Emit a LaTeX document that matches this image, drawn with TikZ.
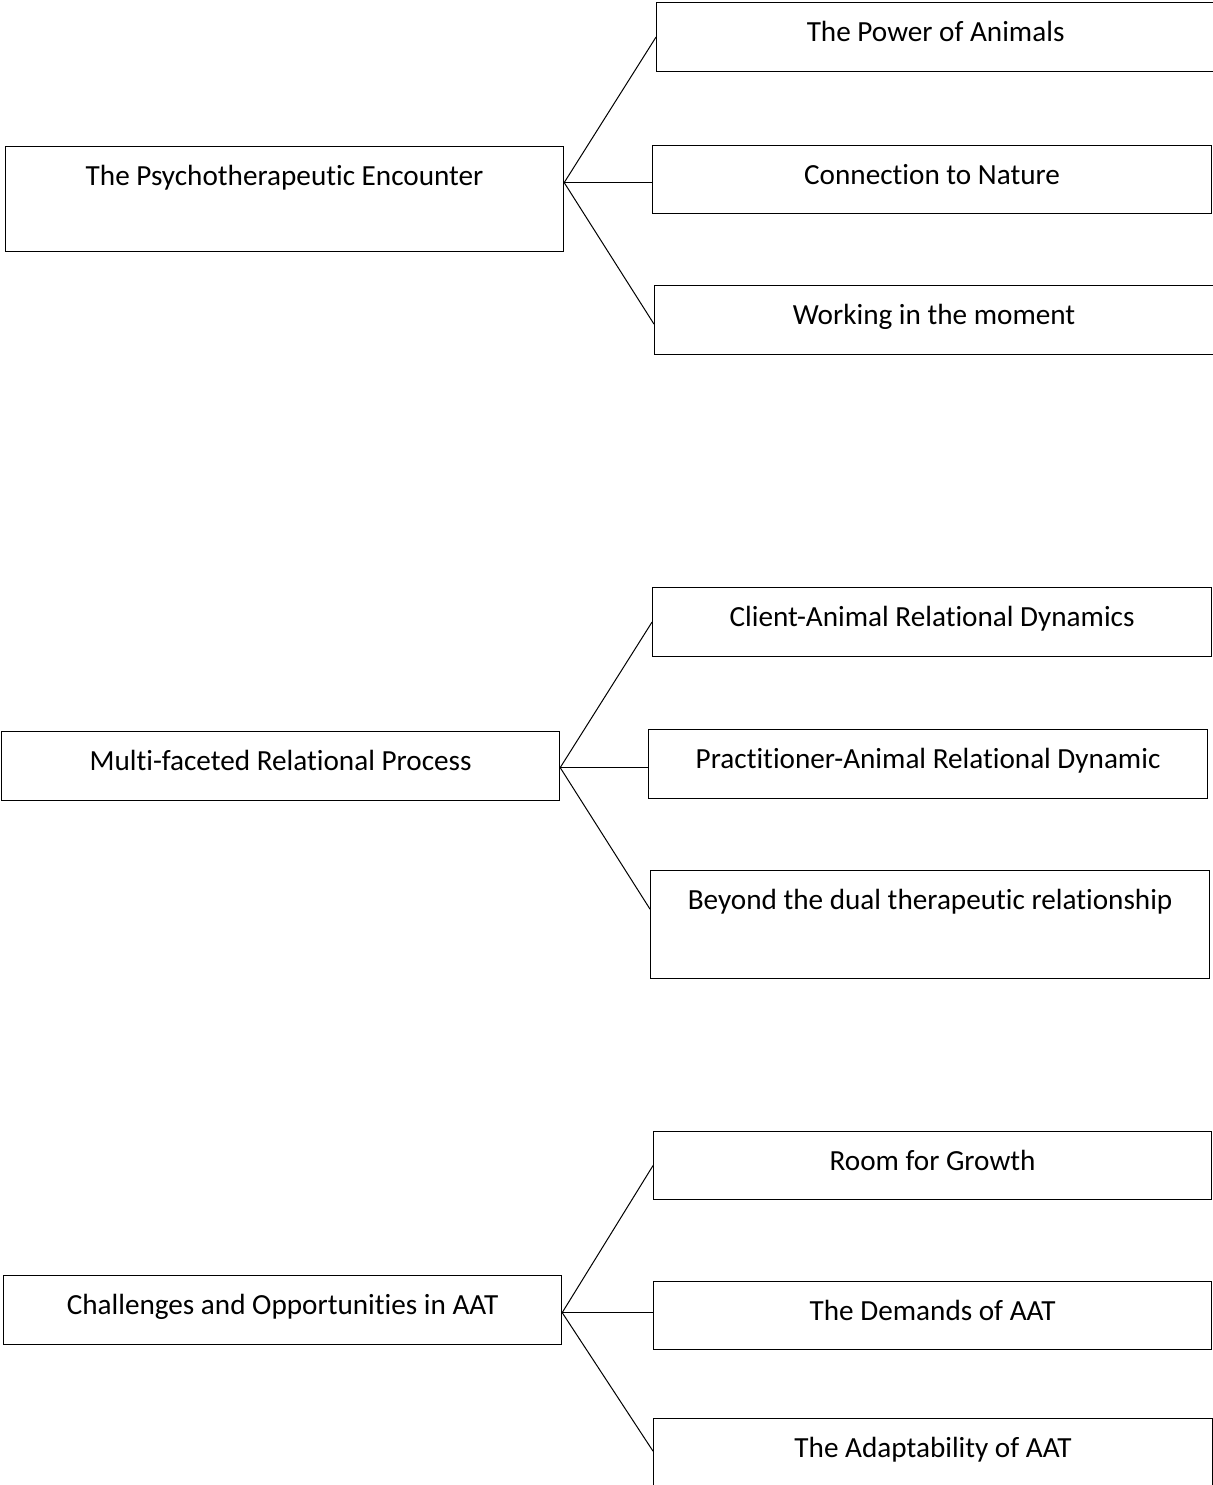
\documentclass[tikz,border=0pt]{standalone}
\usepackage{fontspec}
\setmainfont{Carlito}[Ligatures=NoCommon]
\usepackage{tikz}
\usetikzlibrary{positioning}

\begin{document}
\begin{tikzpicture}[
  x=0.5pt, y=-0.5pt,
  font=\fontsize{14.6pt}{17pt}\selectfont,
  theme/.style={rectangle, draw=black, line width=0.6pt, anchor=north west, inner sep=0pt, align=center, text height=19.25pt, text depth=15.25pt, minimum width=279.5pt},
  ln/.style={draw=black, line width=0.5pt}
]
\useasboundingbox (0,0) rectangle (1212,1485);
% group 1
\node[theme, minimum width=279pt, text depth=33.25pt] (enc) at (5,146) {The Psychotherapeutic Encounter};
\node[theme, minimum width=279pt] (pow) at (656,2) {The Power of Animals};
\node[theme, text depth=14.75pt] (nat) at (652,145) {Connection to Nature};
\node[theme] (mom) at (654,285) {Working in the moment};
\coordinate (j1) at ([yshift=1.25pt]enc.base east);
\draw[ln](j1)--(pow.west);
\draw[ln](j1)--(j1 -| nat.west);
\draw[ln](j1)--(mom.base west);
% group 2
\node[theme, minimum width=279pt] (rel) at (1,731) {Multi-faceted Relational Process};
\node[theme] (cli) at (652,587) {Client-Animal Relational Dynamics};
\node[theme] (pra) at (648,729) {Practitioner-Animal Relational Dynamic};
\node[theme, text depth=34.75pt] (dua) at (650,870) {Beyond the dual therapeutic relationship};
\coordinate (j2) at ([yshift=1.25pt]rel.base east);
\draw[ln](j2)--(cli.west);
\draw[ln](j2)--(j2 -| pra.west);
\draw[ln](j2)--(dua.base west);
% group 3
\node[theme, minimum width=279pt] (cha) at (3,1275) {Challenges and Opportunities in AAT};
\node[theme, minimum width=279pt, text depth=14.75pt] (gro) at (653,1131) {Room for Growth};
\node[theme, minimum width=279pt, text depth=14.75pt] (dem) at (653,1281) {The Demands of AAT};
\node[theme, text depth=20.75pt] (ada) at (653,1418) {The Adaptability of AAT};
\coordinate (j3) at ([yshift=0.75pt]cha.base east);
\draw[ln](j3)--(gro.west);
\draw[ln](j3)--(j3 -| dem.west);
\draw[ln](j3)--([yshift=3pt]ada.base west);
\end{tikzpicture}
\end{document}
